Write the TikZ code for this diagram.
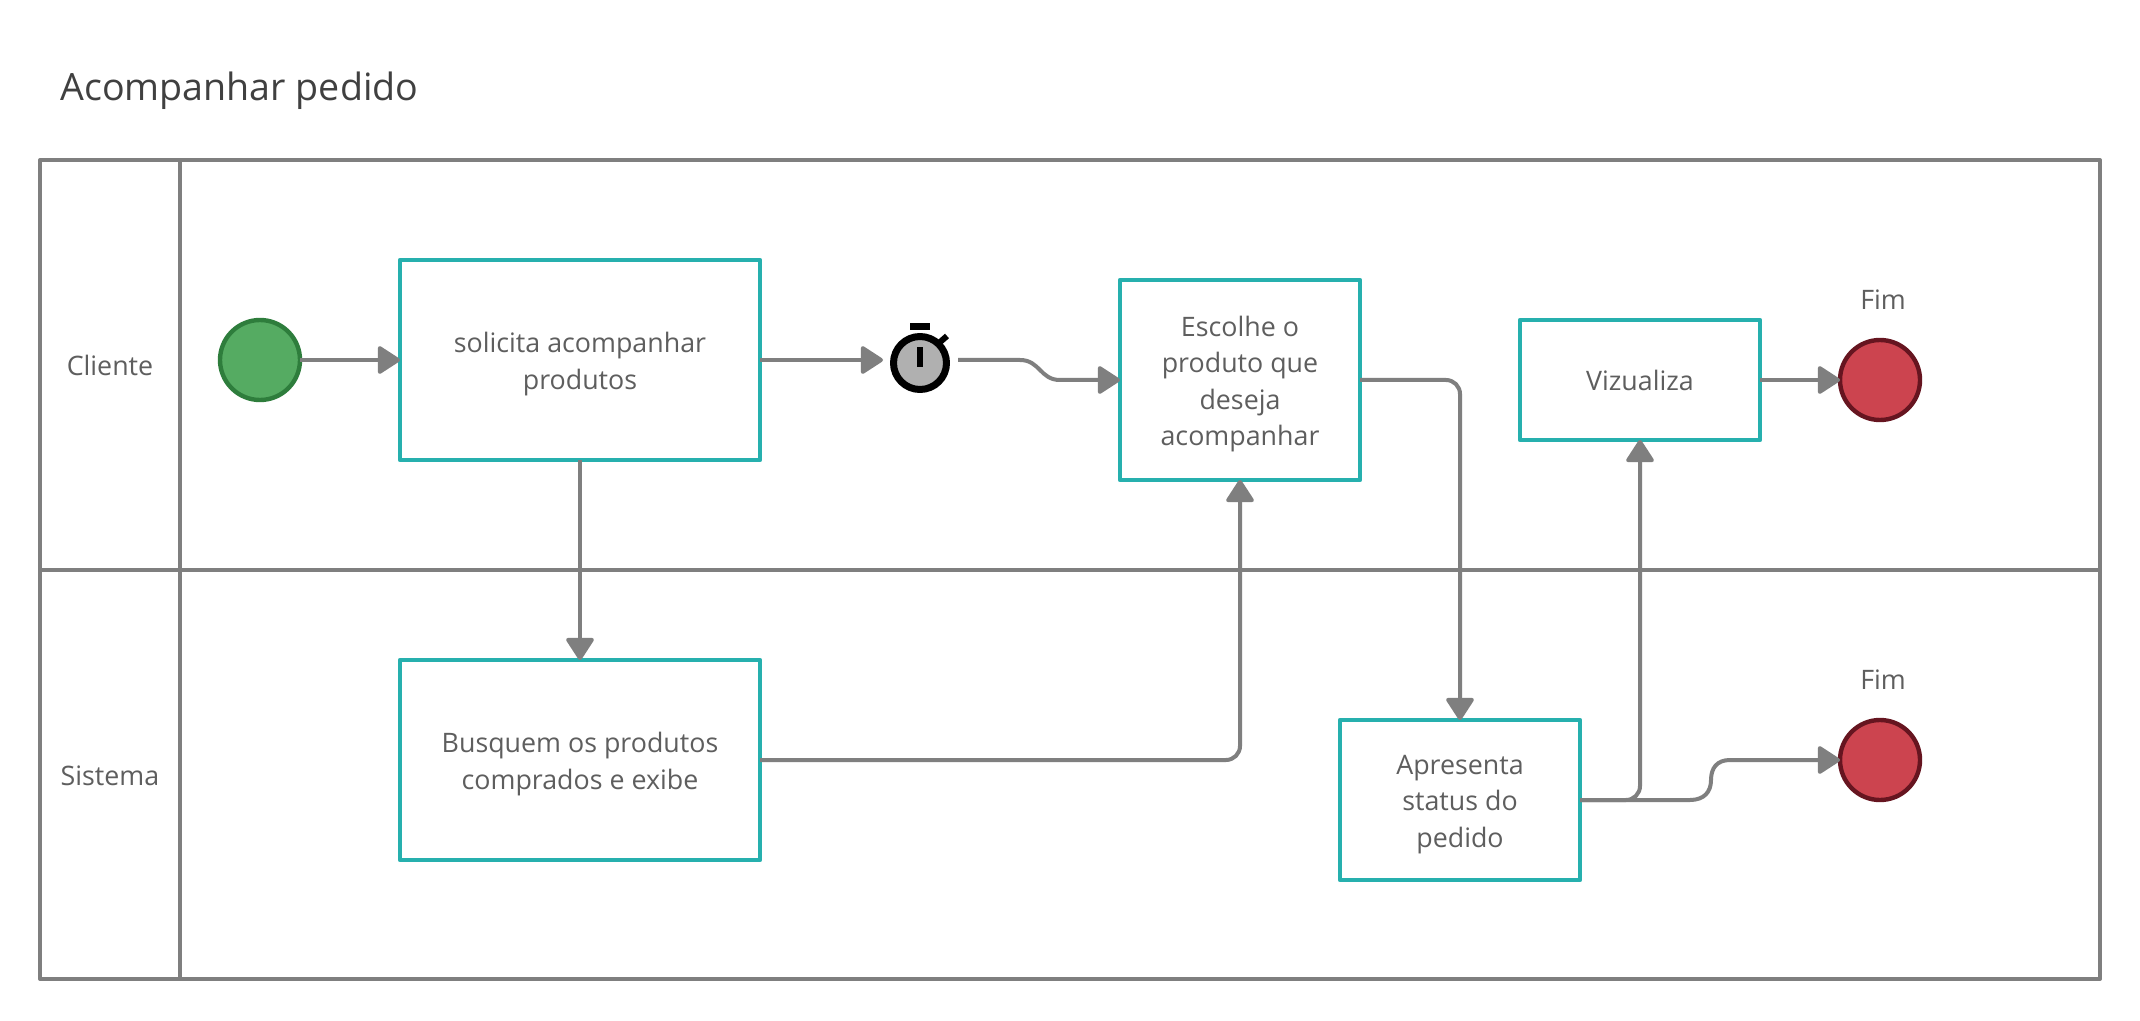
\documentclass[tikz,border=0pt]{standalone}
\usepackage{fontspec}
\setmainfont{Open Sans}
\usetikzlibrary{arrows.meta}
\definecolor{lanec}{HTML}{7F7F7F}
\definecolor{tealc}{HTML}{26B0AE}
\definecolor{txtc}{HTML}{5E5E5E}
\definecolor{titlec}{HTML}{404040}
\definecolor{greenf}{HTML}{55AB62}
\definecolor{greend}{HTML}{2E7D3C}
\definecolor{redf}{HTML}{CC444F}
\definecolor{redd}{HTML}{661520}
\definecolor{timerf}{HTML}{B0B0B0}
\newcommand{\firstln}{\rule{0pt}{14pt}}
\newcommand{\lastln}{\rule[-3pt]{0pt}{3pt}}
\tikzset{
  lane/.style={draw=lanec,line width=2pt},
  taskbox/.style={draw=tealc,line width=2.2pt,fill=white,rectangle,outer sep=0pt,align=center,text=txtc,
    font=\fontsize{13.4}{18.25}\selectfont,inner sep=0pt},
  startev/.style={circle,draw=greend,fill=greenf,line width=2.2pt,minimum size=40pt,inner sep=0pt,outer sep=0pt},
  endev/.style={circle,draw=redd,fill=redf,line width=2.2pt,minimum size=40pt,inner sep=0pt,outer sep=0pt},
  lbl/.style={text=txtc,font=\fontsize{13.4}{18.25}\selectfont,inner sep=0pt},
  conn/.style={draw=lanec,line width=2pt,rounded corners=7pt,
    -{Triangle[length=12pt,width=15pt,round]}},
}
\begin{document}
\begin{tikzpicture}[x=0.5pt,y=-0.5pt,line join=round]
\useasboundingbox (0,0) rectangle (2140,1021);
\fill[white] (0,0) rectangle (2140,1021);
% title
\node[anchor=base west,inner sep=0pt,text=titlec,font=\fontsize{18.8}{24}\selectfont] (title) at (60,101) {Acompanhar pedido};
% swimlanes
\draw[lane] (40,160) rectangle (2100,979);
\draw[lane] (40,570) -- (2100,570);
\draw[lane] (180,160) -- (180,979);
\node[lbl] (cliente) at (110,365) {Cliente};
\node[lbl] (sistema) at (110,776) {Sistema};
% tasks
\node[taskbox,minimum width=180pt,minimum height=100pt] (t1) at (580,360) {\firstln solicita acompanhar\\produtos\lastln};
\node[taskbox,minimum width=180pt,minimum height=100pt] (t2) at (580,760) {\firstln Busquem os produtos\\comprados e exibe\lastln};
\node[taskbox,minimum width=120pt,minimum height=100pt] (t3) at (1240,380) {\firstln Escolhe o\\produto que\\deseja\\acompanhar\lastln};
\node[taskbox,minimum width=120pt,minimum height=80pt] (t4) at (1460,800) {\firstln Apresenta\\status do\\pedido\lastln};
\node[taskbox,minimum width=120pt,minimum height=60pt] (t5) at (1640,380) {\firstln Vizualiza\lastln};
% events
\node[startev] (start) at (260,360) {};
\node[endev] (end1) at (1880,380) {};
\node[endev] (end2) at (1880,760) {};
\node[lbl] (fim1) at (1883,300) {Fim};
\node[lbl] (fim2) at (1883,680) {Fim};
% timer
\node[circle,draw=black,fill=timerf,line width=3.5pt,minimum size=26.5pt,inner sep=0pt] (timer) at (920,363) {};
\fill[black] (910,323) rectangle (930,330);
\fill[black] (917,347) rectangle (923,367);
\draw[black,line width=3pt] (939,343) -- (947,336);
\coordinate (timerin) at (883,360);
\coordinate (timerout) at (958,360);
\coordinate (b1) at (1690,800);
\coordinate (b2) at (1730,760);
% connectors
\draw[conn] (start.east) -- (t1.west);
\draw[conn] (t1.east) -- (timerin);
\draw[conn] (t1.south) -- (t2.north);
\draw[conn,sharp corners] (timerout) -- (1020,360) .. controls (1040,360) and (1040,380) .. (1060,380) -- (t3.west);
\draw[conn] (t2.east) -| (t3.south);
\draw[conn] (t3.east) -| (t4.north);
\draw[conn] (t4.east) -| (t5.south);
\draw[conn,sharp corners] (t4.east) -- (b1) .. controls (1704,800) and (1711,792) .. (1711,780) .. controls (1711,768) and (1717,760) .. (b2) -- (end2.west);
\draw[conn] (t5.east) -- (end1.west);
\end{tikzpicture}
\end{document}
